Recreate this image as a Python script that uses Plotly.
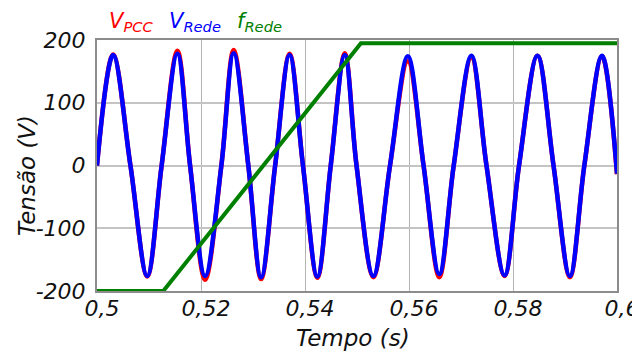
import plotly.graph_objects as go

# ---- data ----
t_wave = [0.5, 0.50309, 0.50643, 0.50966, 0.51243, 0.51546, 0.51790, 0.52079,
          0.52392, 0.52628, 0.52910, 0.53156, 0.53426, 0.53703, 0.53961, 0.54238,
          0.54495, 0.54765, 0.54991, 0.55314, 0.55635, 0.55977, 0.56280, 0.56582,
          0.56860, 0.57200, 0.57490, 0.57838, 0.58116, 0.58470, 0.58779, 0.59094,
          0.59372, 0.59712, 0.6]
v_rede = [0, 176, 0, -176, 0, 178, 0, -176,
          0, 179, 0, -178, 0, 176, 0, -177,
          0, 176, 0, -176, 0, 174, 0, -173,
          0, 175, 0, -175, 0, 175, 0, -176,
          0, 175, -13]
v_pcc = [0, 177, 0, -177, 0, 183, 0, -182,
         0, 184, 0, -181, 0, 178, 0, -179,
         0, 179, 0, -178, 0, 166, 0, -178,
         0, 172, 0, -176, 0, 175, 0, -178,
         0, 174, -14]
t_freq = [0.5, 0.51275, 0.55075, 0.6]
f_rede = [-200, -200, 195, 195]

x_ticks = [0.5, 0.52, 0.54, 0.56, 0.58, 0.6]
x_ticktext = ["0,5", "0,52", "0,54", "0,56", "0,58", "0,6"]
y_ticks = [-200, -100, 0, 100, 200]
y_ticktext = ["-200", "-100", "0", "100", "200"]

FONT = "DejaVu Sans"

fig = go.Figure()
fig.add_trace(go.Scatter(x=t_wave, y=v_pcc, mode="lines", name="V_PCC",
                         line=dict(color="#ff0000", width=4.5, shape="spline", smoothing=1.0)))
fig.add_trace(go.Scatter(x=t_wave, y=v_rede, mode="lines", name="V_Rede",
                         line=dict(color="#0000ff", width=4.5, shape="spline", smoothing=1.0)))
fig.add_trace(go.Scatter(x=t_freq, y=f_rede, mode="lines", name="f_Rede",
                         line=dict(color="#008000", width=4)))

axis_common = dict(showline=True, mirror=True, linecolor="#8c8c8c", linewidth=2,
                   showgrid=True, zeroline=False, ticks="", automargin=False,
                   ticklabeloverflow="allow",
                   tickfont=dict(family=FONT, size=22, color="#111111", style="italic"))

fig.update_xaxes(range=[0.5, 0.6], tickmode="array", tickvals=x_ticks, ticktext=x_ticktext,
                 gridcolor="#b4b4b4", gridwidth=1, ticklabelstandoff=-3, ticklabelshift=5,
                 **axis_common)
fig.update_yaxes(range=[-200, 200], tickmode="array", tickvals=y_ticks, ticktext=y_ticktext,
                 gridcolor="#c4c4c4", gridwidth=2, ticklabelstandoff=5, **axis_common)

ann_font = dict(family=FONT, size=21, style="italic")
title_font = dict(family=FONT, size=23, style="italic")
legend_items = [("V<sub>PCC</sub>", "#ff0000", 107),
                ("V<sub>Rede</sub>", "#0000ff", 167),
                ("f<sub>Rede</sub>", "#008000", 235)]
annotations = []
for txt, col, px in legend_items:
    annotations.append(dict(text=txt, x=(px - 97) / 520, y=(291 - 22) / 251,
                            xref="paper", yref="paper", xanchor="left", yanchor="middle",
                            showarrow=False, font=dict(color=col, **ann_font)))
annotations.append(dict(text="Tempo (s)", x=(353 - 97) / 520, y=(291 - 338) / 251,
                        xref="paper", yref="paper", xanchor="center", yanchor="middle",
                        showarrow=False, font=dict(color="#111111", **title_font)))
annotations.append(dict(text="Tensão (V)", x=(27 - 97) / 520, y=(291 - 176) / 251,
                        xref="paper", yref="paper", xanchor="center", yanchor="middle",
                        textangle=-90, showarrow=False, font=dict(color="#111111", **title_font)))

fig.update_layout(width=632, height=351, margin=dict(l=97, r=15, t=40, b=60),
                  paper_bgcolor="white", plot_bgcolor="white", showlegend=False,
                  annotations=annotations)

fig.write_html("out.html", config={"displayModeBar": False},
               post_script="document.body.style.margin='0';document.body.style.overflow='hidden';")
